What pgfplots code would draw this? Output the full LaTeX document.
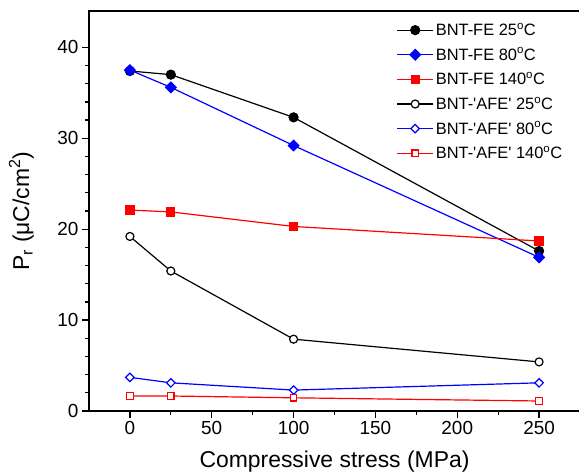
\documentclass[border=0pt]{standalone}
\usepackage{fontspec}
\setmainfont{Liberation Sans}
\usepackage{pgfplots}
\pgfplotsset{compat=1.18}
\definecolor{myblue}{RGB}{0,0,255}
\definecolor{myred}{RGB}{255,0,0}
\begin{document}
\begin{tikzpicture}
\begin{axis}[
 scale only axis, width=491bp, height=400bp,
 xmin=-25, xmax=275, ymin=0, ymax=44,
 xtick={0,50,...,250}, minor x tick num=1,
 ytick={0,10,...,40}, minor y tick num=4,
 tick pos=left,
 tick align=outside,
 major tick length=7bp, minor tick length=4bp,
 axis line style={line width=1.5bp},
 every tick/.style={line width=1.2bp, black},
 tick label style={font=\fontsize{19}{22}\selectfont},
 /pgf/number format/assume math mode=true,
 xlabel={Compressive stress (MPa)},
 ylabel={P\textsubscript{r} (μC/cm\textsuperscript{2})},
 label style={font=\fontsize{23}{26}\selectfont},
 xlabel style={at={(axis description cs:0.5,0)}, anchor=base, yshift=-56bp},
 ylabel style={at={(axis description cs:-0.1222,0.5)}, anchor=base},
 legend style={at={(axis description cs:0.62,0.98)}, anchor=north west, draw=none, fill=none,
   font=\fontsize{16.5}{19}\selectfont, row sep=6.7bp},
 legend cell align=left,
 legend image code/.code={\draw[mark repeat=2,mark phase=2] plot coordinates {(0bp,0bp)(18bp,0bp)(36bp,0bp)};},
]
\addplot[black, line width=1.2bp, mark=*, mark size=4.5bp] coordinates {(0,37.4)(25,37.0)(100,32.3)(250,17.6)};
\addlegendentry{BNT-FE 25\textsuperscript{o}C}
\addplot[myblue, line width=1.2bp, mark=square*, mark size=3.7bp, mark options={rotate=45}] coordinates {(0,37.5)(25,35.6)(100,29.2)(250,16.9)};
\addlegendentry{BNT-FE 80\textsuperscript{o}C}
\addplot[myred, line width=1.2bp, mark=square*, mark size=4bp] coordinates {(0,22.1)(25,21.9)(100,20.3)(250,18.7)};
\addlegendentry{BNT-FE 140\textsuperscript{o}C}
\addplot[black, line width=1.2bp, mark=*, mark size=4bp, mark options={fill=white}] coordinates {(0,19.2)(25,15.4)(100,7.9)(250,5.4)};
\addlegendentry{BNT-\textquotesingle AFE\textquotesingle{} 25\textsuperscript{o}C}
\addplot[myblue, line width=1.2bp, mark=square*, mark size=3bp, mark options={rotate=45, fill=white}] coordinates {(0,3.7)(25,3.1)(100,2.3)(250,3.1)};
\addlegendentry{BNT-\textquotesingle AFE\textquotesingle{} 80\textsuperscript{o}C}
\addplot[myred, line width=1.2bp, mark=square*, mark size=3.2bp, mark options={fill=white}] coordinates {(0,1.65)(25,1.65)(100,1.45)(250,1.1)};
\addlegendentry{BNT-\textquotesingle AFE\textquotesingle{} 140\textsuperscript{o}C}
\end{axis}
\pgfresetboundingbox
\useasboundingbox ([xshift=-89bp,yshift=-64bp]current axis.south west) rectangle ([xshift=-1bp,yshift=11bp]current axis.north east);
\end{tikzpicture}
\end{document}
